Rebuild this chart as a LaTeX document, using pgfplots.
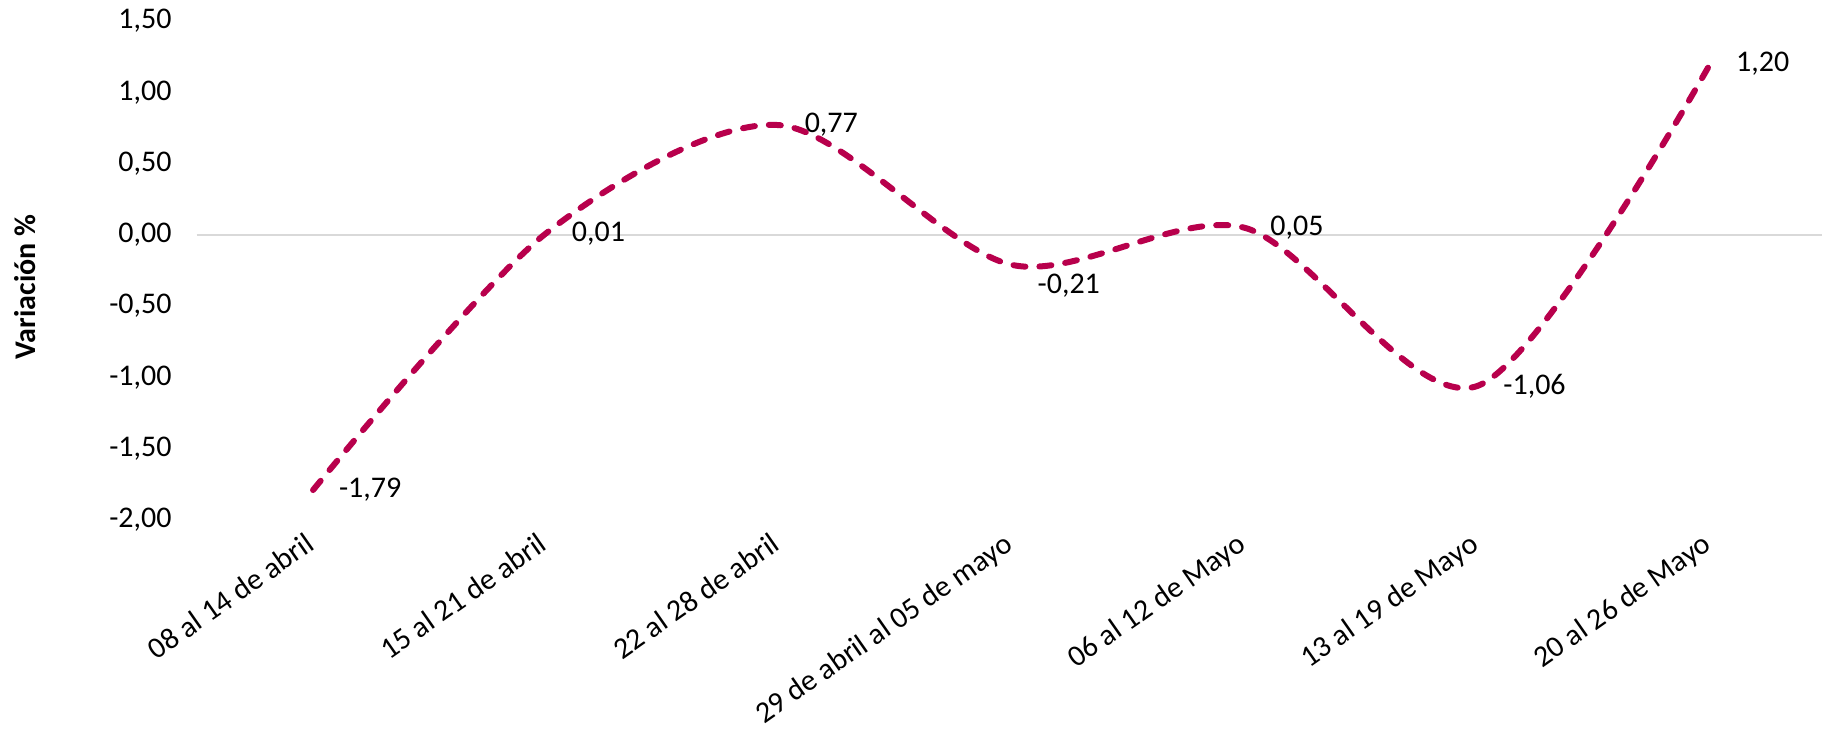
\documentclass[border=0pt]{standalone}
\usepackage{pgfplots}
\pgfplotsset{compat=1.18}
\usepackage{fontspec}
\setmainfont{Carlito}
\definecolor{linecol}{HTML}{B8004C}
\definecolor{zerocol}{HTML}{D9D9D9}
\newcommand{\lowlab}[1]{\raisebox{-14.5pt}[0pt][0pt]{#1}}
\begin{document}
\begin{tikzpicture}
\begin{axis}[
  at={(0,0)}, anchor=south west,
  width=812.7pt, height=249.5pt, scale only axis,
  xmin=-0.5, xmax=6.48, ymin=-2, ymax=1.5,
  axis line style={draw=none},
  major tick length=0pt,
  /pgf/number format/assume math mode=true,
  ytick={-2,-1.5,-1,-0.5,0,0.5,1,1.5},
  yticklabel style={/pgf/number format/fixed, /pgf/number format/fixed zerofill, /pgf/number format/precision=2, /pgf/number format/use comma},
  y tick label style={anchor=east, inner sep=0pt, xshift=-12.3pt, font=\fontsize{15}{18}\selectfont},
  xtick={0,...,6},
  xticklabels={08 al 14 de abril, 15 al 21 de abril, 22 al 28 de abril, 29 de abril al 05 de mayo, 06 al 12 de Mayo, 13 al 19 de Mayo, 20 al 26 de Mayo},
  x tick label style={rotate=35, anchor=north east, inner sep=0pt, xshift=-7pt, yshift=-2pt, font=\fontsize{15}{18}\selectfont},
  extra y ticks={0}, extra y tick labels={},
  extra y tick style={grid=major, major grid style={draw=zerocol, line width=0.75pt}},
  clip=false,
]
\addplot[linecol, line width=3pt, dash pattern=on 6pt off 7pt, line cap=round, smooth, mark=none,
  nodes near coords, point meta=explicit symbolic,
  every node near coord/.append style={anchor=west, inner sep=0pt, xshift=11.5pt, yshift=0pt, text=black, font=\fontsize{15}{18}\selectfont}]
coordinates {
(0,-1.79) [-1,79]
(1,0.01) [0,01]
(2,0.77) [0,77]
(3,-0.21) [\lowlab{-0,21}]
(4,0.05) [0,05]
(5,-1.06) [-1,06]
(6,1.20) [1,20]
};
\end{axis}
\node[rotate=90, font=\bfseries\fontsize{15}{18}\selectfont] at (-85.8pt,116.5pt) {Variación \%};
\pgfresetboundingbox
\path[use as bounding box] (-98.3pt,-104.5pt) rectangle (812.7pt,260pt);
\end{tikzpicture}
\end{document}
